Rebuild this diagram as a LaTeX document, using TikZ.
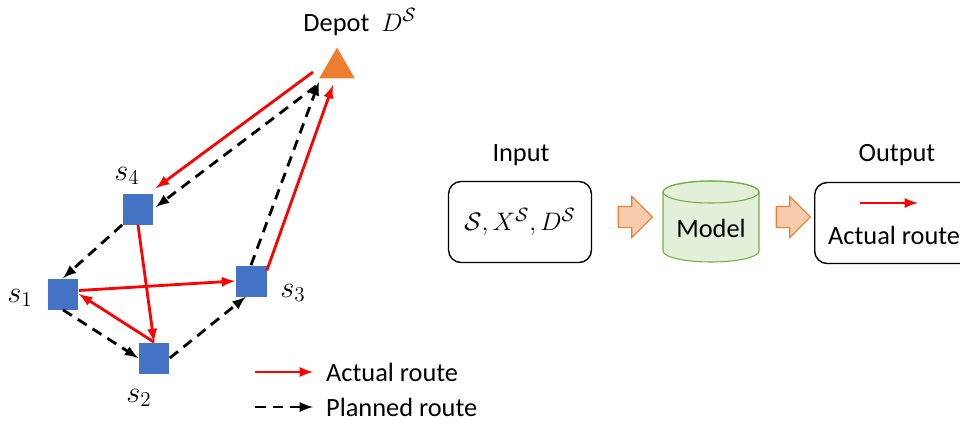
\documentclass[tikz,border=0pt]{standalone}
\usepackage{fontspec}
\setmainfont{Carlito}
\usepackage{amsmath}
\usepackage{xcolor}
\usetikzlibrary{arrows,positioning,shapes.geometric,shapes.arrows}
\definecolor{stopblue}{HTML}{4472C4}
\definecolor{depotorange}{HTML}{ED7D31}
\definecolor{arrowfill}{HTML}{F8CBAD}
\definecolor{modelfill}{HTML}{E2F0D9}
\definecolor{modelline}{HTML}{70AD47}

\tikzset{
	stopbox/.style={fill=stopblue,minimum size=0.62cm,inner sep=0pt},
	stoplab/.style={font=\fontsize{17pt}{19pt}\selectfont},
	actual/.style={-latex,red,line width=1.6pt},
	planned/.style={-latex,black,line width=1.6pt,dash pattern=on 6pt off 4pt},
	blockarrow/.style={single arrow,fill=arrowfill,draw=depotorange,line width=0.6pt,
		inner xsep=0pt,inner ysep=0.2cm,single arrow head extend=0.2cm,minimum height=0.68cm},
	iobox/.style={draw,line width=0.8pt,rounded corners=0.25cm,minimum height=1.62cm}
}

\begin{document}
\begin{tikzpicture}[x=0.02cm,y=-0.02cm,font=\fontsize{15pt}{18pt}\selectfont]
	\useasboundingbox (0,0) rectangle (960,423);
	% depot and stops
	\node[regular polygon,regular polygon sides=3,fill=depotorange,minimum size=0.82cm,inner sep=0pt] (dep) at (337,68) {};
	\node (deplab) at (360,22) {Depot\ \ $D^{\mathcal{S}}$};
	\node[stopbox] (s1) at (63,294) {};
	\node[stopbox] (s2) at (154,358) {};
	\node[stopbox] (s3) at (251,281) {};
	\node[stopbox] (s4) at (138,209) {};
	\node[stoplab] (s1lab) at (20,298) {$s_1$};
	\node[stoplab] (s2lab) at (139,398) {$s_2$};
	\node[stoplab] (s3lab) at (293,293) {$s_3$};
	\node[stoplab] (s4lab) at (127,176) {$s_4$};
	% planned route
	\draw[planned] ([shift={(-21,18)}]dep.center) -- ([shift={(2,-2)}]s4.east);
	\draw[planned] (s4.south west) -- (s1.north);
	\draw[planned] (s1.south) -- (s2.west);
	\draw[planned] (s2.east) -- ([xshift=-3]s3.south);
	\draw[planned] (s3.north) -- ([shift={(-18,14)}]dep.center);
	% actual route
	\draw[actual] ([shift={(-24,4)}]dep.center) -- ([shift={(2,-5)}]s4.north east);
	\draw[actual] (s4.south) -- (s2.north);
	\draw[actual] (s2.north) -- (s1.east);
	\draw[actual] ([yshift=2]s1.east) -- (s3.west);
	\draw[actual] ([yshift=-3]s3.north east) -- ([shift={(-4,17)}]dep.center);
	% legend
	\coordinate (la) at (255,372);
	\coordinate (lb) at (313,372);
	\coordinate (lc) at (255,407);
	\coordinate (ld) at (313,407);
	\draw[actual] (la) -- (lb);
	\draw[planned] (lc) -- (ld);
	\node[anchor=west] (actlab) at (320,372) {Actual route};
	\node[anchor=west] (planlab) at (320,407) {Planned route};
	% input, model, output
	\node[iobox,minimum width=2.86cm] (inbox) at (520,222) {$\mathcal{S},X^{\mathcal{S}},D^{\mathcal{S}}$};
	\node (inlab) at (521,155) {Input};
	\node[blockarrow] (arr1) at (630,217) {};
	\filldraw[fill=modelfill,draw=modelline,line width=0.6pt] (663,192) -- (663,251)
		arc[start angle=180,end angle=0,x radius=48,y radius=11] -- (759,192)
		arc[start angle=0,end angle=-180,x radius=48,y radius=11] -- cycle;
	\draw[modelline,line width=0.6pt] (711,192) ellipse[x radius=48,y radius=11];
	\node (model) at (711,228) {Model};
	\node[blockarrow] (arr2) at (788,217) {};
	\node[iobox,minimum width=3.3cm,anchor=west] (outbox) at (814,223) {};
	\node (outlab) at (897,155) {Output};
	\coordinate (oa) at (860,203);
	\coordinate (ob) at (918,203);
	\draw[actual] (oa) -- (ob);
	\node[anchor=west] (outtext) at (822,235) {Actual route};
\end{tikzpicture}
\end{document}
